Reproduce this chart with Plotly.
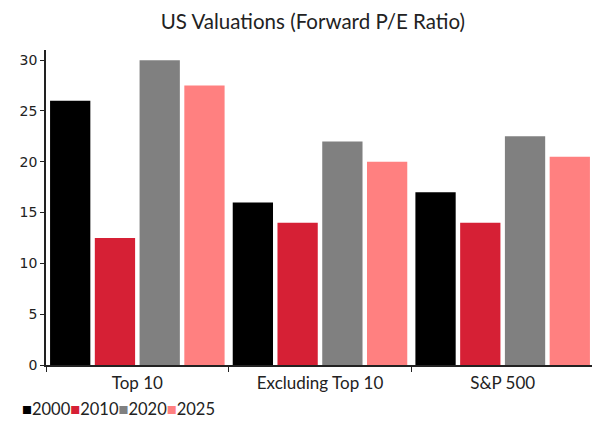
import plotly.graph_objects as go

# Data
categories = ["Top 10", "Excluding Top 10", "S&P 500"]
years = ["2000", "2010", "2020", "2025"]
pe_2000 = [26, 16, 17]
pe_2010 = [12.5, 14, 14]
pe_2020 = [30, 22, 22.5]
pe_2025 = [27.5, 20, 20.5]
colors = ["#000000", "#d62035", "#808080", "#ff8080"]

fig = go.Figure()
for year, vals, col in zip(years, [pe_2000, pe_2010, pe_2020, pe_2025], colors):
    fig.add_trace(
        go.Bar(
            x=categories,
            y=vals,
            name=year,
            marker=dict(color=col, line=dict(width=0)),
        )
    )

# compact legend drawn as text, square glyph coloured per series
legend_text = "".join(
    f"<span style='color:{c}'>■</span>{y}" for y, c in zip(years, colors)
)
fig.add_annotation(
    text=legend_text,
    xref="paper",
    yref="paper",
    x=-0.047,
    y=-0.14,
    xanchor="left",
    yanchor="middle",
    showarrow=False,
    font=dict(size=16.5, color="#222"),
)

# page body has an 8px margin, so the figure is sized 8px smaller
fig.update_layout(
    width=592,
    height=413,
    barmode="group",
    bargap=0.02,
    bargroupgap=0.1,
    showlegend=False,
    plot_bgcolor="white",
    paper_bgcolor="white",
    font=dict(family="Lato, sans-serif", size=14, color="#222"),
    title=dict(
        text="US Valuations (Forward P/E Ratio)",
        x=0.515,
        xanchor="center",
        y=0.966,
        yanchor="middle",
        font=dict(size=20.5, color="#222"),
    ),
    margin=dict(l=38, r=6, t=42, b=56),
    xaxis=dict(
        automargin=False,
        showline=True,
        linecolor="#222",
        linewidth=1.5,
        ticks="outside",
        tickson="boundaries",
        ticklen=5,
        tickcolor="#222",
        showgrid=False,
        ticklabelstandoff=2,
        tickfont=dict(size=17),
    ),
    yaxis=dict(
        automargin=False,
        range=[0, 31],
        dtick=5,
        showline=True,
        linecolor="#222",
        linewidth=1.5,
        ticks="outside",
        ticklen=4,
        tickcolor="#222",
        showgrid=False,
        zeroline=False,
        tickfont=dict(family="DejaVu Sans, sans-serif", size=14),
    ),
)

fig.write_html("out.html")
